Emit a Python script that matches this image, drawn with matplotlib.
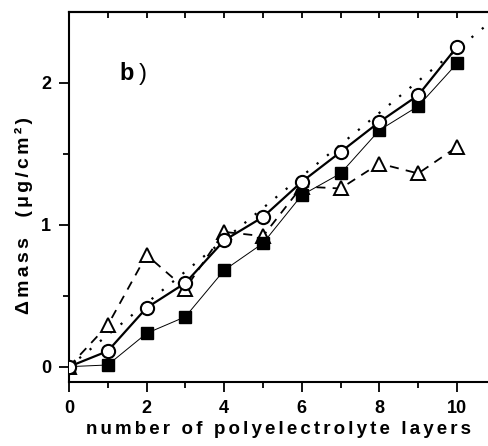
import numpy as np
import matplotlib
matplotlib.use("Agg")
import matplotlib.pyplot as plt

# number of layers
layers = [0, 1, 2, 3, 4, 5, 6, 7, 8, 9, 10]

# mass series (ug/cm2)
mass_circles = [0.0, 0.11, 0.415, 0.59, 0.89, 1.055, 1.303, 1.513, 1.725, 1.913, 2.254]
mass_squares = [0.0, 0.012, 0.235, 0.352, 0.68, 0.87, 1.209, 1.362, 1.667, 1.836, 2.137]
mass_triangles = [0.0, 0.293, 0.787, 0.55, 0.95, 0.92, 1.27, 1.256, 1.432, 1.362, 1.549]

# dotted reference line
fit_x = [0, 11]
fit_y = [0, 2.46]

xlabel_text = 'number of polyelectrolyte layers'
ylabel_text = '\u0394mass  (\u03bcg/cm\u00b2)'

plt.rcParams['font.family'] = ['Liberation Sans', 'DejaVu Sans']
plt.rcParams['font.weight'] = 'bold'


def spaced(s):
    # the original labels are set with wide letter spacing
    return '\u2006'.join(s)


fig = plt.figure(figsize=(4.88, 4.46), dpi=100)
ax = fig.add_axes([69 / 488, 1 - 382 / 446, 1 - 69 / 488, (382 - 12) / 446])

ax.plot(fit_x, fit_y, color='black', lw=1.6, linestyle=(0, (1, 5)), zorder=1)
ax.plot(layers, mass_squares, color='black', lw=0.7, marker='s', ms=8.5,
        mfc='black', mec='black', zorder=3)
ax.plot(layers, mass_triangles, color='black', lw=1.3, linestyle=(0, (5, 4)),
        marker='^', ms=10.5, mfc='white', mec='black', mew=1.4, zorder=2)
ax.plot(layers, mass_circles, color='black', lw=1.6, marker='o', ms=9.5,
        mfc='white', mec='black', mew=1.5, zorder=4)

ax.set_xlim(0, 10.8)
ax.set_ylim(-0.108, 2.5)
ax.set_xticks([0, 2, 4, 6, 8, 10])
ax.set_xticks([1, 3, 5, 7, 9], minor=True)
ax.set_yticks([0, 1, 2])
ax.set_yticks([0.5, 1.5], minor=True)

for s in ax.spines.values():
    s.set_linewidth(1.5)
ax.spines['right'].set_visible(False)

ax.tick_params(axis='both', which='major', direction='out', length=7, width=1.3,
               labelsize=13, pad=6)
ax.tick_params(axis='both', which='minor', direction='out', length=4, width=1.3)

top = ax.secondary_xaxis('top')
top.set_xticks([0, 1, 2, 3, 4, 5, 6, 7, 8, 9, 10])
top.set_xticklabels([])
top.tick_params(direction='in', length=4, width=1.3)
top.spines['top'].set_linewidth(1.5)

ax.set_xlabel(spaced(xlabel_text), fontsize=13.5, fontweight='bold', labelpad=3)
ax.set_ylabel(spaced(ylabel_text), fontsize=14, fontweight='bold')
ax.yaxis.set_label_coords(-0.085, 0.45)

ax.text(1.3, 2.02, 'b', fontsize=17, fontweight='bold')
ax.text(1.8, 2.02, ')', fontsize=17, fontweight='normal')

fig.savefig('out.png', dpi=100)
